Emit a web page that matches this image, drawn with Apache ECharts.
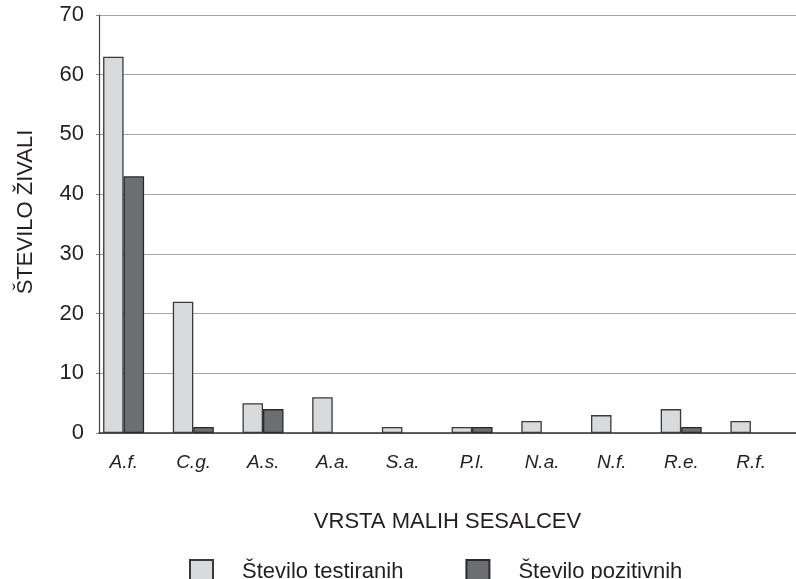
<!DOCTYPE html>
<html>
<head>
<meta charset="utf-8">
<script src="https://cdn.jsdelivr.net/npm/echarts@6/dist/echarts.min.js"></script>
<style>html,body{margin:0;padding:0;background:#fff;}#c{width:796px;height:579px;}</style>
</head>
<body>
<div id="c"></div>
<script>
const categories = ['A.f.', 'C.g.', 'A.s.', 'A.a.', 'S.a.', 'P.l.', 'N.a.', 'N.f.', 'R.e.', 'R.f.'];
const tested = [63, 22, 5, 6, 1, 1, 2, 3, 4, 2];
const positive = [43, 1, 4, 0, 0, 1, 0, 0, 1, 0];
const seriesNames = ['Število testiranih', 'Število pozitivnih'];
const yTicks = [0, 10, 20, 30, 40, 50, 60, 70];
const xAxisName = 'VRSTA MALIH SESALCEV';
const yAxisName = 'ŠTEVILO ŽIVALI';

const FONT = '"Liberation Sans", Arial, sans-serif';
const TXT = '#231f20';
const nz = v => (v === 0 ? '-' : v);

const chart = echarts.init(document.getElementById('c'), null, {renderer: 'canvas'});
chart.setOption({
  animation: false,
  backgroundColor: '#ffffff',
  grid: {left: 99, right: -10, top: 15, bottom: 146, containLabel: false},
  legend: {
    data: seriesNames,
    left: 184, top: 554,
    itemWidth: 23, itemHeight: 23,
    itemGap: 62,
    icon: 'rect',
    textStyle: {fontFamily: FONT, fontSize: 22, color: TXT, padding: [0, 0, 0, 24]}
  },
  xAxis: {
    type: 'category',
    data: categories,
    name: xAxisName,
    nameLocation: 'middle',
    nameGap: 78,
    nameTextStyle: {fontFamily: FONT, fontSize: 22, color: TXT},
    axisLine: {show: true, lineStyle: {color: '#333333', width: 1.5}},
    axisTick: {show: false},
    axisLabel: {fontFamily: FONT, fontSize: 19, fontStyle: 'italic', color: TXT, margin: 20, padding: [0, 20, 0, 0]},
    splitLine: {show: false}
  },
  yAxis: {
    type: 'value',
    min: yTicks[0], max: yTicks[yTicks.length - 1], interval: yTicks[1] - yTicks[0],
    name: yAxisName,
    nameLocation: 'middle',
    nameGap: 62,
    nameTextStyle: {fontFamily: FONT, fontSize: 22, color: TXT, padding: [0, 0, 0, 24]},
    axisLine: {show: true, lineStyle: {color: '#444444', width: 1.2}},
    axisTick: {show: true, length: 3, lineStyle: {color: '#888888'}},
    axisLabel: {fontFamily: FONT, fontSize: 22, color: TXT, margin: 15},
    splitLine: {show: true, lineStyle: {color: '#a6a6a6', width: 1.2}}
  },
  series: [
    {
      name: seriesNames[0], type: 'bar', data: tested.map(nz),
      barWidth: 20.5, barGap: '0%',
      itemStyle: {color: '#d9dadc', borderColor: '#3a3a3a', borderWidth: 1.3}
    },
    {
      name: seriesNames[1], type: 'bar', data: positive.map(nz),
      barWidth: 20.5, barGap: '0%',
      itemStyle: {color: '#6d6e71', borderColor: '#2a2a2a', borderWidth: 1.3}
    },
    {
      name: '_spacer', type: 'bar', data: categories.map(() => '-'),
      barWidth: 20.5, barGap: '0%', silent: true
    }
  ]
});
</script>
</body>
</html>
